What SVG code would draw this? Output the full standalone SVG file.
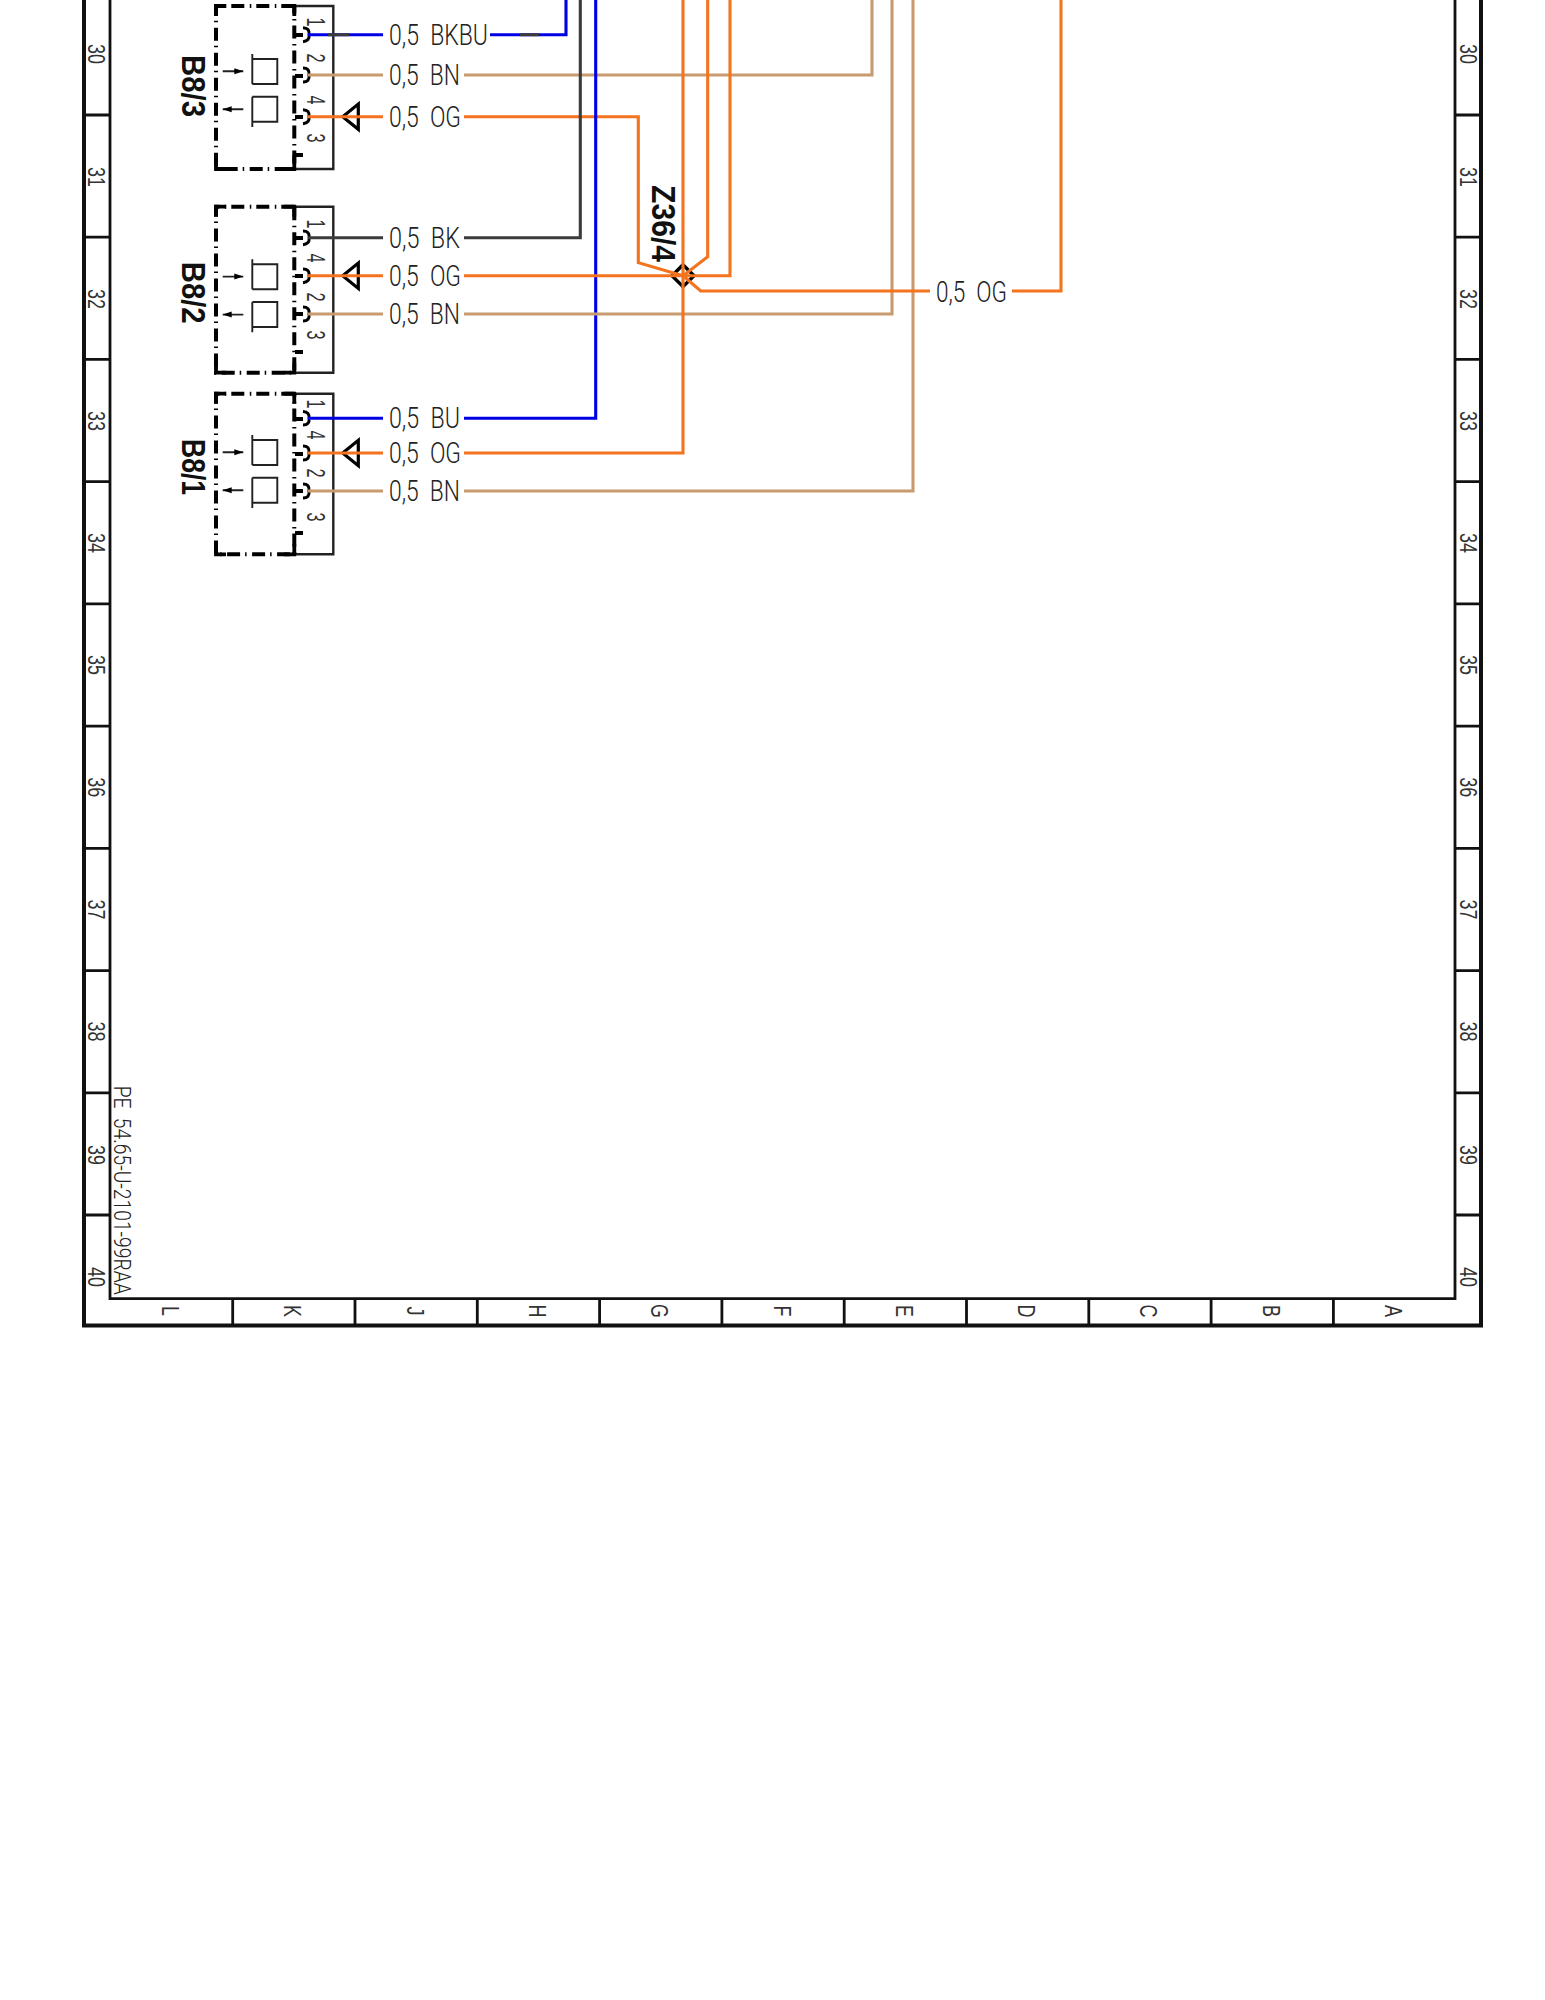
<svg xmlns="http://www.w3.org/2000/svg" width="1545" height="2000" viewBox="0 0 1545 2000">
<style>
.frame{fill:none;stroke:#111;stroke-width:4}
.grid{fill:none;stroke:#111;stroke-width:2.8}
.thin{fill:none;stroke:#222;stroke-width:2.4}
.dash{fill:none;stroke:#000;stroke-width:4;stroke-dasharray:13 5 1.5 5.5}
.tab{fill:none;stroke:#000;stroke-width:3.8}
.hook{fill:none;stroke:#000;stroke-width:3}
.sym{fill:none;stroke:#222;stroke-width:1.9}
.tri{fill:none;stroke:#000;stroke-width:3.2}
.w{fill:none;stroke-width:3.1;stroke-linejoin:miter}
.bu{stroke:#0000e6}.og{stroke:#f4731e}.bn{stroke:#c89b6e}.bk{stroke:#3c3c3c}
text{font-family:"Liberation Sans",Arial,sans-serif;fill:#333}
.lab{font-size:29px;fill:#222;font-family:Roboto,"Liberation Sans",sans-serif;font-weight:300;white-space:pre}
.num{font-size:23px;font-family:Roboto,"Liberation Sans",sans-serif;font-weight:300;fill:#222;text-anchor:middle}
.pin{font-size:25px;font-family:Roboto,"Liberation Sans",sans-serif;font-weight:300;fill:#222;text-anchor:middle}
.b{font-size:33px;font-weight:700;fill:#111}
</style>
<defs>
<g id="sensor" class="sym">
<path d="M252.300,-5V25M252.300,0H277.300V25H252.300"/>
<path d="M252.300,37.700H277.300V62.700H252.300M252.300,37.700V68"/>
<path d="M222.700,12.300H243.300M222.700,50.300H243.300"/>
<path d="M243.300,12.300l-9,-3v6z" fill="#000" stroke="none"/>
<path d="M222.700,50.300l9,-3v6z" fill="#000" stroke="none"/>
</g>
</defs>
<g id="frame">
<path class="frame" d="M84,0V1325.500H1481V0"/>
<path class="grid" d="M110,0V1298.700H1455V0"/>
<path class="grid" d="M84,115H110M84,237.200H110M84,359.400H110M84,481.700H110M84,603.900H110M84,726.100H110M84,848.300H110M84,970.600H110M84,1092.800H110M84,1215H110"/>
<path class="grid" d="M1455,115H1481M1455,237.200H1481M1455,359.400H1481M1455,481.700H1481M1455,603.900H1481M1455,726.100H1481M1455,848.300H1481M1455,970.600H1481M1455,1092.800H1481M1455,1215H1481"/>
<path class="grid" d="M232.700,1299V1325M355,1299V1325M477.300,1299V1325M599.600,1299V1325M721.900,1299V1325M844.200,1299V1325M966.500,1299V1325M1088.800,1299V1325M1211.100,1299V1325M1333.400,1299V1325"/>
<g class="num">
<text transform="translate(88,54) rotate(90) scale(.78,1)">30</text><text transform="translate(88,177) rotate(90) scale(.78,1)">31</text><text transform="translate(88,299) rotate(90) scale(.78,1)">32</text><text transform="translate(88,421) rotate(90) scale(.78,1)">33</text><text transform="translate(88,543) rotate(90) scale(.78,1)">34</text><text transform="translate(88,665) rotate(90) scale(.78,1)">35</text><text transform="translate(88,787.200) rotate(90) scale(.78,1)">36</text><text transform="translate(88,909.400) rotate(90) scale(.78,1)">37</text><text transform="translate(88,1031.600) rotate(90) scale(.78,1)">38</text><text transform="translate(88,1155) rotate(90) scale(.78,1)">39</text><text transform="translate(88,1277) rotate(90) scale(.78,1)">40</text>
<text transform="translate(1459.500,54) rotate(90) scale(.78,1)">30</text><text transform="translate(1459.500,177) rotate(90) scale(.78,1)">31</text><text transform="translate(1459.500,299) rotate(90) scale(.78,1)">32</text><text transform="translate(1459.500,421) rotate(90) scale(.78,1)">33</text><text transform="translate(1459.500,543) rotate(90) scale(.78,1)">34</text><text transform="translate(1459.500,665) rotate(90) scale(.78,1)">35</text><text transform="translate(1459.500,787.200) rotate(90) scale(.78,1)">36</text><text transform="translate(1459.500,909.400) rotate(90) scale(.78,1)">37</text><text transform="translate(1459.500,1031.600) rotate(90) scale(.78,1)">38</text><text transform="translate(1459.500,1155) rotate(90) scale(.78,1)">39</text><text transform="translate(1459.500,1277) rotate(90) scale(.78,1)">40</text>
<text transform="translate(162,1311) rotate(90) scale(.78,1)">L</text><text transform="translate(284.300,1311) rotate(90) scale(.78,1)">K</text><text transform="translate(406.600,1311) rotate(90) scale(.78,1)">J</text><text transform="translate(528.900,1311) rotate(90) scale(.78,1)">H</text><text transform="translate(651.200,1311) rotate(90) scale(.78,1)">G</text><text transform="translate(773.500,1311) rotate(90) scale(.78,1)">F</text><text transform="translate(895.800,1311) rotate(90) scale(.78,1)">E</text><text transform="translate(1018.100,1311) rotate(90) scale(.78,1)">D</text><text transform="translate(1140.400,1311) rotate(90) scale(.78,1)">C</text><text transform="translate(1262.700,1311) rotate(90) scale(.78,1)">B</text><text transform="translate(1385,1311) rotate(90) scale(.78,1)">A</text>
</g>
<text transform="translate(114,1085.700) rotate(90)" textLength="209" lengthAdjust="spacingAndGlyphs" style="font-size:23px;font-family:Roboto,'Liberation Sans',sans-serif;font-weight:300;fill:#222;white-space:pre">PE  54.65-U-2101-99RAA</text>
</g>
<g id="B8-3">
<path class="thin" d="M296,6H333.300V169H296"/>
<path class="dash" d="M294.300,6H216V169H294.300V6"/>
<path class="tab" d="M226,6H216V16M216,159V169H226M284,169H294.300V155M284,6H294.300V16"/>
<use href="#sensor" y="59"/>
<path class="tab" d="M303,35H295M303,76H295M303,117H295M303,155H295"/>
<path class="hook" d="M303,27.700Q310,28 309,34.700Q310,41 303,41.700M303,68Q310,68 309,75Q310,82 303,82M303,109.700Q310,110 309,116.700Q310,123 303,123.700"/>
<path class="tri" d="M342.700,116.700L358.300,104V129.300Z"/>
<text class="b" transform="translate(182,55) rotate(90)" textLength="62" lengthAdjust="spacingAndGlyphs">B8/3</text>
<g class="pin"><text transform="translate(307,22) rotate(90) scale(.65,1)">1</text><text transform="translate(307,58) rotate(90) scale(.65,1)">2</text><text transform="translate(307,100) rotate(90) scale(.65,1)">4</text><text transform="translate(307,138) rotate(90) scale(.65,1)">3</text></g>
<text class="lab" x="389" y="45" textLength="99" lengthAdjust="spacingAndGlyphs">0,5  BKBU</text>
<text class="lab" x="389" y="85" textLength="71" lengthAdjust="spacingAndGlyphs">0,5  BN</text>
<text class="lab" x="389" y="127" textLength="72" lengthAdjust="spacingAndGlyphs">0,5  OG</text>
</g>
<g id="B8-2">
<path class="thin" d="M296,206.700H333.300V372.700H296"/>
<path class="dash" d="M294.300,206.700H216V372.700H294.300V206.700"/>
<path class="tab" d="M226,206.700H216V216.700M216,362.700V372.700H226M284,372.700H294.300V362.700M284,206.700H294.300V216.700"/>
<use href="#sensor" y="264.300"/>
<path class="tab" d="M303,238H295M303,276H295M303,314H295M303,352H295"/>
<path class="hook" d="M303,231Q310,231 309,237.700Q310,244 303,244.700M303,269Q310,269 309,275.700Q310,282 303,282.700M303,307Q310,307 309,314Q310,321 303,321"/>
<path class="tri" d="M342.700,275.700L358.300,263V288.400Z"/>
<text class="b" transform="translate(182,261.700) rotate(90)" textLength="62" lengthAdjust="spacingAndGlyphs">B8/2</text>
<g class="pin"><text transform="translate(307,224) rotate(90) scale(.65,1)">1</text><text transform="translate(307,258) rotate(90) scale(.65,1)">4</text><text transform="translate(307,297) rotate(90) scale(.65,1)">2</text><text transform="translate(307,335) rotate(90) scale(.65,1)">3</text></g>
<text class="lab" x="389" y="248" textLength="71" lengthAdjust="spacingAndGlyphs">0,5  BK</text>
<text class="lab" x="389" y="286" textLength="72" lengthAdjust="spacingAndGlyphs">0,5  OG</text>
<text class="lab" x="389" y="324" textLength="71" lengthAdjust="spacingAndGlyphs">0,5  BN</text>
</g>
<g id="B8-1">
<path class="thin" d="M296,393.700H333.300V554.300H296"/>
<path class="dash" d="M294.300,393.700H216V554.300H294.300V393.700"/>
<path class="tab" d="M226,393.700H216V403.700M216,544.300V554.300H226M284,554.300H294.300V544.300M284,393.700H294.300V403.700"/>
<use href="#sensor" y="440"/>
<path class="tab" d="M303,419H295M303,454H295M303,491H295M303,533H295"/>
<path class="hook" d="M303,411.600Q310,412 309,418.300Q310,425 303,425M303,446Q310,446 309,453Q310,460 303,460M303,484Q310,484 309,491Q310,498 303,498"/>
<path class="tri" d="M342.700,453L358.300,440.300V465.700Z"/>
<text class="b" transform="translate(182,439) rotate(90)" textLength="56" lengthAdjust="spacingAndGlyphs">B8/1</text>
<g class="pin"><text transform="translate(307,404) rotate(90) scale(.65,1)">1</text><text transform="translate(307,435) rotate(90) scale(.65,1)">4</text><text transform="translate(307,473) rotate(90) scale(.65,1)">2</text><text transform="translate(307,517) rotate(90) scale(.65,1)">3</text></g>
<text class="lab" x="389" y="428" textLength="71" lengthAdjust="spacingAndGlyphs">0,5  BU</text>
<text class="lab" x="389" y="463" textLength="72" lengthAdjust="spacingAndGlyphs">0,5  OG</text>
<text class="lab" x="389" y="501" textLength="71" lengthAdjust="spacingAndGlyphs">0,5  BN</text>
</g>
<g id="Z36-4">
<path d="M683,264.700L694,275.700L683,286.700L672,275.700Z" fill="none" stroke="#000" stroke-width="3.4"/>
<text class="b" transform="translate(652,185) rotate(90)" textLength="77" lengthAdjust="spacingAndGlyphs">Z36/4</text>
</g>
<g id="label-og">
<text class="lab" x="936" y="302" textLength="71" lengthAdjust="spacingAndGlyphs">0,5  OG</text>
</g>
<g id="connectors">
<path class="w bu" d="M308,34.700H383M490,34.700H566V0"/>
<path class="w bk" d="M328,34.700H349M520,34.700H539"/>
<path class="w bn" d="M308,75H383M464,75H872V0"/>
<path class="w og" d="M308,116.700H383M464,116.700H638.300V262.700L683,275.700"/>
<path class="w bk" d="M308,237.700H383M464,237.700H580.300V0"/>
<path class="w bu" d="M308,418.300H383M464,418.300H595.700V0"/>
<path class="w og" d="M308,275.700H383M464,275.700H730V0"/>
<path class="w bn" d="M308,314H383M464,314H892V0"/>
<path class="w og" d="M308,453H383M464,453H683V0"/>
<path class="w bn" d="M308,491H383M464,491H913V0"/>
<path class="w og" d="M707.700,0V256.700L683,275.700L700.700,291H930M1012,291H1061V0"/>
</g>
</svg>
